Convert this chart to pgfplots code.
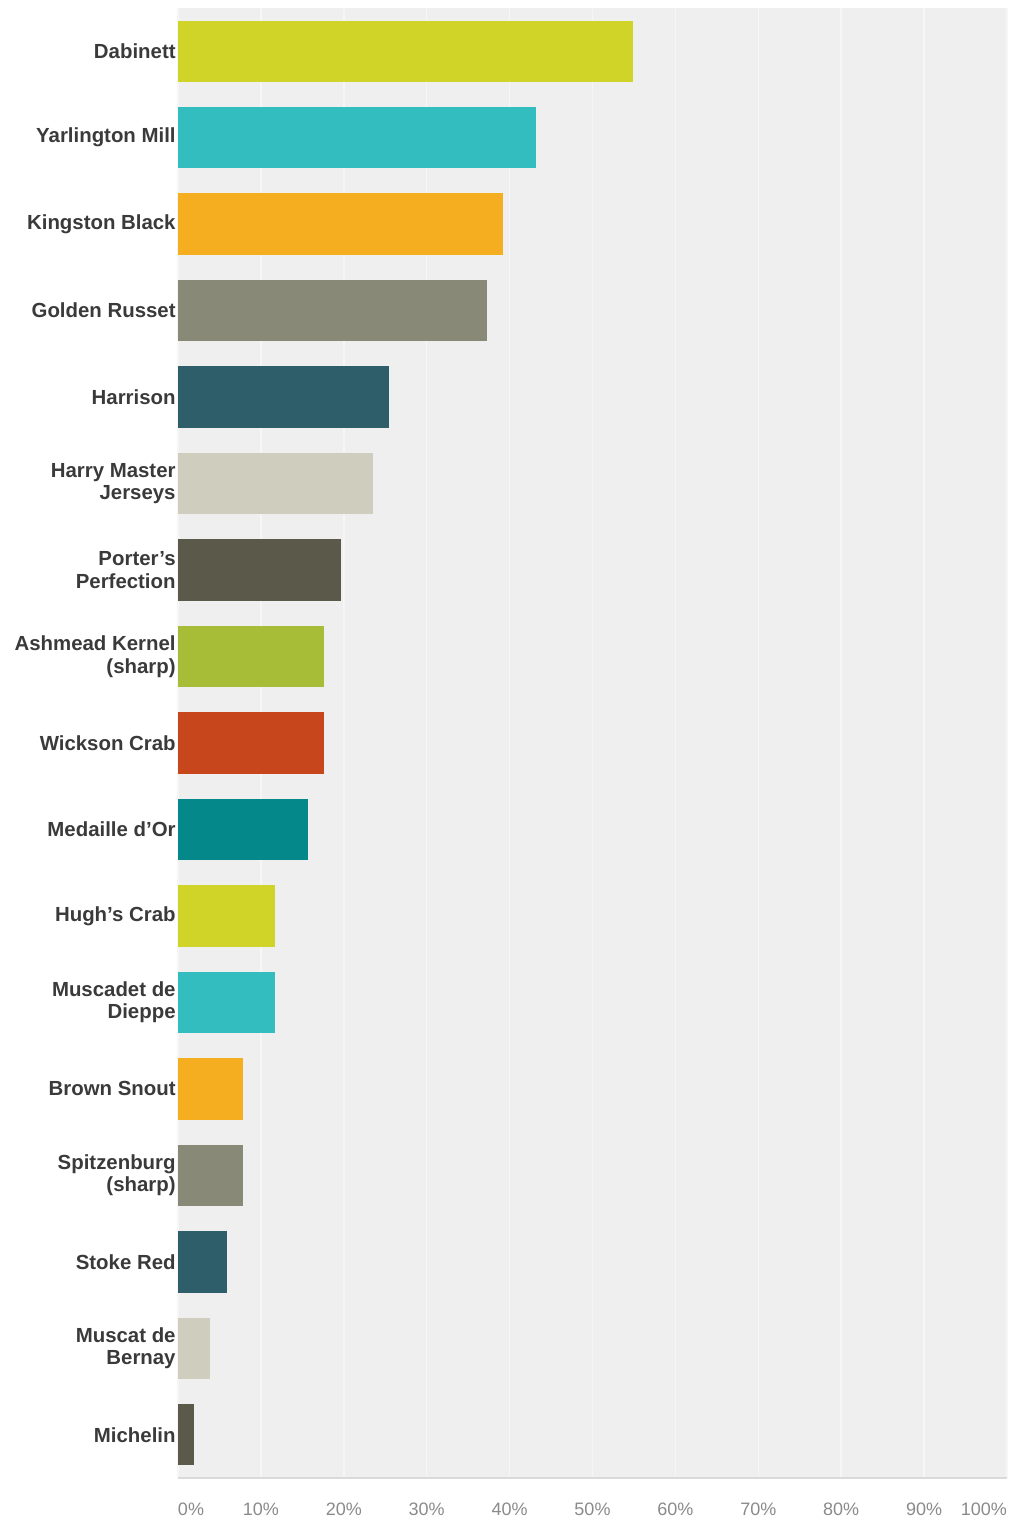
\documentclass[border=0pt]{standalone}
\usepackage{pgfplots}
\pgfplotsset{compat=1.18}
\usepackage{fontspec}
\setmainfont{Liberation Sans}
\definecolor{bgc}{HTML}{EFEFEF}
\definecolor{gridc}{HTML}{F6F6F6}
\definecolor{basec}{HTML}{DADADA}
\definecolor{labelc}{HTML}{3A3A3A}
\definecolor{tickc}{HTML}{8A8A8A}
\definecolor{c1}{HTML}{D0D328}
\definecolor{c2}{HTML}{33BDBF}
\definecolor{c3}{HTML}{F5AE1F}
\definecolor{c4}{HTML}{888A77}
\definecolor{c5}{HTML}{2E5E6A}
\definecolor{c6}{HTML}{CFCDBE}
\definecolor{c7}{HTML}{5B5A4A}
\definecolor{c8}{HTML}{A7BD37}
\definecolor{c9}{HTML}{C7461C}
\definecolor{c10}{HTML}{04888A}
\pgfplotsset{mybar/.style={fill=#1, draw=none, bar shift=0pt}}
\begin{document}
\begin{tikzpicture}
\begin{axis}[
  name=ax,
  scale only axis,
  width=414.5pt, height=735pt,
  xbar, bar width=0.71,
  xmin=0, xmax=100,
  ymin=-0.5, ymax=16.5,
  y dir=reverse,
  axis background/.style={fill=bgc},
  axis line style={draw=none},
  tick style={draw=none},
  major tick length=0pt,
  xmajorgrids,
  major grid style={gridc, line width=0.75pt},
  xtick={0,10,...,100},
  xticklabels={\makebox[0pt][l]{0\%},10\%,20\%,30\%,40\%,50\%,60\%,70\%,80\%,90\%,\makebox[0pt][r]{100\%}},
  xticklabel style={font=\fontsize{9}{10}\selectfont, text=tickc, inner sep=0pt, anchor=north, yshift=-12.5pt},
  ytick={0,...,16},
  yticklabels={Dabinett, Yarlington Mill, Kingston Black, Golden Russet, Harrison, {Harry Master\\Jerseys}, {Porter's\\Perfection}, {Ashmead Kernel\\(sharp)}, Wickson Crab, {Medaille d'Or}, {Hugh's Crab}, {Muscadet de\\Dieppe}, Brown Snout, {Spitzenburg\\(sharp)}, Stoke Red, {Muscat de\\Bernay}, Michelin},
  yticklabel style={align=right, font=\bfseries\fontsize{10.2}{11.2}\selectfont, text=labelc, inner sep=1pt},
  after end axis/.code={\draw[basec, line width=1pt] (rel axis cs:0,0) -- (rel axis cs:1,0);},
]
\addplot[mybar=c1] coordinates {(54.90,0)};
\addplot[mybar=c2] coordinates {(43.14,1)};
\addplot[mybar=c3] coordinates {(39.22,2)};
\addplot[mybar=c4] coordinates {(37.25,3)};
\addplot[mybar=c5] coordinates {(25.49,4)};
\addplot[mybar=c6] coordinates {(23.53,5)};
\addplot[mybar=c7] coordinates {(19.61,6)};
\addplot[mybar=c8] coordinates {(17.65,7)};
\addplot[mybar=c9] coordinates {(17.65,8)};
\addplot[mybar=c10] coordinates {(15.69,9)};
\addplot[mybar=c1] coordinates {(11.76,10)};
\addplot[mybar=c2] coordinates {(11.76,11)};
\addplot[mybar=c3] coordinates {(7.84,12)};
\addplot[mybar=c4] coordinates {(7.84,13)};
\addplot[mybar=c5] coordinates {(5.88,14)};
\addplot[mybar=c6] coordinates {(3.92,15)};
\addplot[mybar=c7] coordinates {(1.96,16)};
\end{axis}
\path ([xshift=-89pt, yshift=-21.5pt]ax.south west) rectangle ([xshift=2pt, yshift=4pt]ax.north east);
\end{tikzpicture}
\end{document}
